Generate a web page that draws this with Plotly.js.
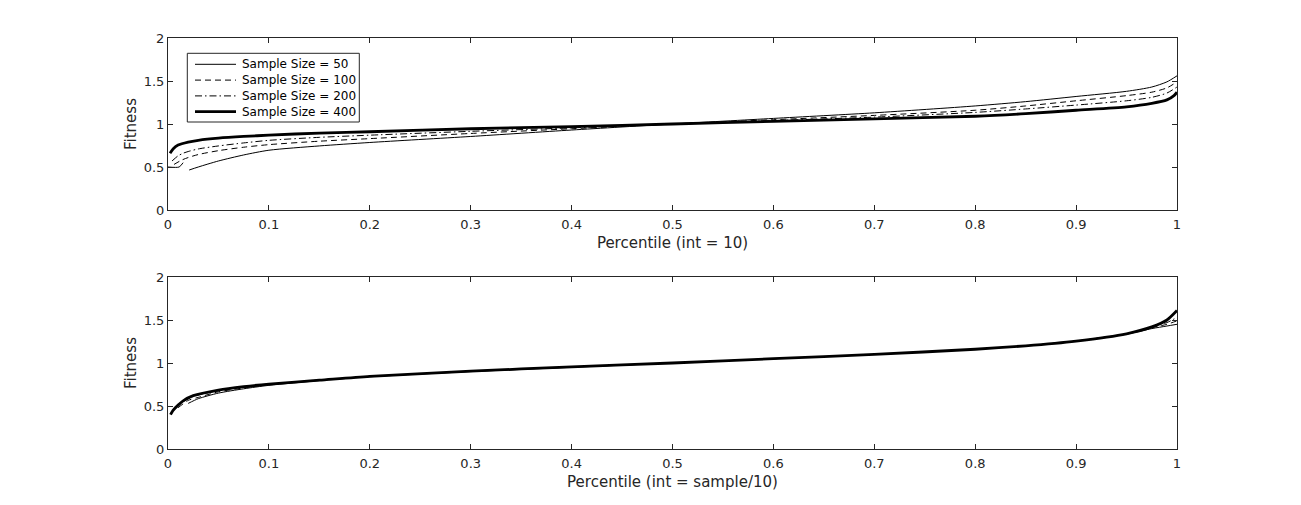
<!DOCTYPE html>
<html>
<head>
<meta charset="utf-8">
<script src="https://cdn.plot.ly/plotly-3.0.1.min.js"></script>
<style>html,body{margin:0;padding:0;background:#fff;}#chart{width:1301px;height:505px;}</style>
</head>
<body>
<div id="chart"></div>
<script>
// ---- Data ----
const seriesNames = ["Sample Size = 50", "Sample Size = 100", "Sample Size = 200", "Sample Size = 400"];

// Top panel: Percentile (int = 10)
const pctTop50  = [0, 0.011, 0.015, 0.018, 0.021, 0.03, 0.05, 0.075, 0.1, 0.15, 0.2, 0.3, 0.4, 0.5, 0.6, 0.7, 0.8, 0.85, 0.9, 0.95, 0.975, 0.99, 1.0];
const fitTop50  = [0.50, 0.50, 0.55, null, 0.465, 0.50, 0.57, 0.64, 0.695, 0.745, 0.785, 0.855, 0.93, 1.00, 1.065, 1.13, 1.21, 1.26, 1.32, 1.38, 1.43, 1.49, 1.56];
const pctTop100 = [0.006, 0.0135, 0.02, 0.03, 0.05, 0.075, 0.1, 0.15, 0.2, 0.3, 0.4, 0.5, 0.6, 0.7, 0.8, 0.85, 0.9, 0.95, 0.975, 0.99, 1.0];
const fitTop100 = [0.53, 0.58, 0.61, 0.645, 0.69, 0.73, 0.76, 0.80, 0.83, 0.89, 0.945, 1.00, 1.05, 1.10, 1.16, 1.21, 1.27, 1.33, 1.37, 1.42, 1.49];
const pctTop200 = [0.004, 0.01, 0.015, 0.02, 0.03, 0.05, 0.075, 0.1, 0.15, 0.2, 0.3, 0.4, 0.5, 0.6, 0.7, 0.8, 0.85, 0.9, 0.95, 0.975, 0.99, 1.0];
const fitTop200 = [0.57, 0.63, 0.66, 0.68, 0.71, 0.745, 0.78, 0.81, 0.845, 0.87, 0.915, 0.955, 1.00, 1.04, 1.08, 1.135, 1.175, 1.22, 1.27, 1.31, 1.36, 1.43];
const pctTop400 = [0.002, 0.005, 0.01, 0.02, 0.03, 0.05, 0.075, 0.1, 0.15, 0.2, 0.3, 0.4, 0.5, 0.6, 0.7, 0.8, 0.85, 0.9, 0.95, 0.975, 0.99, 0.997, 1.0];
const fitTop400 = [0.66, 0.71, 0.755, 0.79, 0.81, 0.835, 0.855, 0.87, 0.895, 0.91, 0.945, 0.97, 1.00, 1.03, 1.06, 1.09, 1.12, 1.16, 1.20, 1.24, 1.28, 1.33, 1.37];

// Bottom panel: Percentile (int = sample/10)
const pctBot50  = [0.02, 0.03, 0.05, 0.075, 0.1, 0.15, 0.2, 0.3, 0.4, 0.5, 0.6, 0.7, 0.8, 0.85, 0.9, 0.95, 0.975, 0.99, 1.0];
const fitBot50  = [0.53, 0.585, 0.65, 0.70, 0.74, 0.795, 0.84, 0.90, 0.95, 1.00, 1.05, 1.10, 1.16, 1.20, 1.255, 1.335, 1.40, 1.43, 1.45];
const pctBot100 = [0.01, 0.02, 0.03, 0.05, 0.075, 0.1, 0.15, 0.2, 0.3, 0.4, 0.5, 0.6, 0.7, 0.8, 0.85, 0.9, 0.95, 0.975, 0.99, 1.0];
const fitBot100 = [0.48, 0.565, 0.60, 0.665, 0.71, 0.748, 0.80, 0.843, 0.903, 0.953, 1.00, 1.05, 1.10, 1.16, 1.20, 1.255, 1.34, 1.41, 1.45, 1.49];
const pctBot200 = [0.005, 0.01, 0.015, 0.025, 0.05, 0.075, 0.1, 0.15, 0.2, 0.3, 0.4, 0.5, 0.6, 0.7, 0.8, 0.85, 0.9, 0.95, 0.975, 0.99, 1.0];
const fitBot200 = [0.44, 0.50, 0.55, 0.61, 0.68, 0.72, 0.752, 0.80, 0.844, 0.904, 0.954, 1.00, 1.05, 1.10, 1.16, 1.20, 1.255, 1.34, 1.415, 1.47, 1.53];
const pctBot400 = [0.0025, 0.005, 0.01, 0.015, 0.025, 0.05, 0.075, 0.1, 0.15, 0.2, 0.3, 0.4, 0.5, 0.6, 0.7, 0.8, 0.85, 0.9, 0.95, 0.975, 0.99, 1.0];
const fitBot400 = [0.40, 0.45, 0.51, 0.56, 0.62, 0.685, 0.725, 0.755, 0.80, 0.845, 0.905, 0.955, 1.00, 1.05, 1.10, 1.16, 1.20, 1.255, 1.34, 1.42, 1.50, 1.61];

const xTickVals = [0, 0.1, 0.2, 0.3, 0.4, 0.5, 0.6, 0.7, 0.8, 0.9, 1];
const xTickText = ["0", "0.1", "0.2", "0.3", "0.4", "0.5", "0.6", "0.7", "0.8", "0.9", "1"];
const yTickVals = [0, 0.5, 1, 1.5, 2];
const yTickText = ["0", "0.5", "1", "1.5", "2"];

// ---- Styles ----
const lineStyles = [
  {color: "#000", width: 1, dash: "solid"},
  {color: "#000", width: 1, dash: "6px,4px"},
  {color: "#000", width: 1, dash: "7px,3px,1.5px,3px"},
  {color: "#000", width: 2.8, dash: "solid"}
];

const topX = [pctTop50, pctTop100, pctTop200, pctTop400];
const topY = [fitTop50, fitTop100, fitTop200, fitTop400];
const botX = [pctBot50, pctBot100, pctBot200, pctBot400];
const botY = [fitBot50, fitBot100, fitBot200, fitBot400];

const traces = [];
for (let i = 0; i < 4; i++) {
  traces.push({x: topX[i], y: topY[i], name: seriesNames[i], type: "scatter", mode: "lines",
    line: Object.assign({shape: "spline", smoothing: 0.7}, lineStyles[i]),
    xaxis: "x", yaxis: "y", connectgaps: false, showlegend: false});
}
for (let i = 0; i < 4; i++) {
  traces.push({x: botX[i], y: botY[i], name: seriesNames[i], type: "scatter", mode: "lines",
    line: Object.assign({shape: "spline", smoothing: 0.7}, lineStyles[i]),
    xaxis: "x2", yaxis: "y2", showlegend: false});
}

const txt = "#262626";
const fontFam = "DejaVu Sans, sans-serif";
function xAx(title, anchor, dom) {
  return {domain: dom, anchor: anchor, range: [0, 1], tickvals: xTickVals, ticktext: xTickText,
    ticks: "inside", ticklen: 5, tickwidth: 1, tickcolor: txt, mirror: "allticks",
    showline: true, linecolor: txt, linewidth: 1, showgrid: false, zeroline: false,
    tickfont: {family: fontFam, size: 13, color: txt}, automargin: false, ticklabelstandoff: 2,
    title: {text: title, font: {family: fontFam, size: 15, color: txt}, standoff: 6}};
}
function yAx(anchor, dom) {
  return {domain: dom, anchor: anchor, range: [0, 2], tickvals: yTickVals, ticktext: yTickText,
    ticks: "inside", ticklen: 5, tickwidth: 1, tickcolor: txt, mirror: "allticks",
    showline: true, linecolor: txt, linewidth: 1, showgrid: false, zeroline: false,
    tickfont: {family: fontFam, size: 13, color: txt}, automargin: false,
    title: {text: "Fitness", font: {family: fontFam, size: 15, color: txt}, standoff: 3}};
}

// ---- Legend drawn in paper coordinates (box, line samples, labels) ----
const W = 1301, H = 505;
const px = v => v / W, py = v => (H - v) / H;
const legRows = [64.3, 80.1, 95.9, 111.7];
const shapes = [{type: "rect", xref: "paper", yref: "paper", x0: px(187.3), x1: px(359.3), y0: py(122), y1: py(53.3),
  line: {color: txt, width: 1}, fillcolor: "#fff", layer: "above"}];
const annotations = [];
for (let i = 0; i < 4; i++) {
  shapes.push({type: "line", xref: "paper", yref: "paper", x0: px(195), x1: px(236), y0: py(legRows[i]), y1: py(legRows[i]),
    line: {color: "#000", width: lineStyles[i].width, dash: lineStyles[i].dash}, layer: "above"});
  annotations.push({xref: "paper", yref: "paper", x: px(240), y: py(legRows[i]), xanchor: "left", yanchor: "middle",
    text: seriesNames[i], showarrow: false, font: {family: fontFam, size: 12, color: "#000"}});
}

const xd = [168 / W, 1177 / W];
const layout = {
  width: W, height: H,
  margin: {l: 0, r: 0, t: 0, b: 0},
  paper_bgcolor: "#fff", plot_bgcolor: "#fff",
  showlegend: false,
  shapes: shapes, annotations: annotations,
  xaxis: xAx("Percentile (int = 10)", "y", xd),
  yaxis: yAx("x", [(H - 210) / H, (H - 38) / H]),
  xaxis2: xAx("Percentile (int = sample/10)", "y2", xd),
  yaxis2: yAx("x2", [(H - 449) / H, (H - 277) / H])
};

Plotly.newPlot("chart", traces, layout, {staticPlot: true, displayModeBar: false});
</script>
</body>
</html>
